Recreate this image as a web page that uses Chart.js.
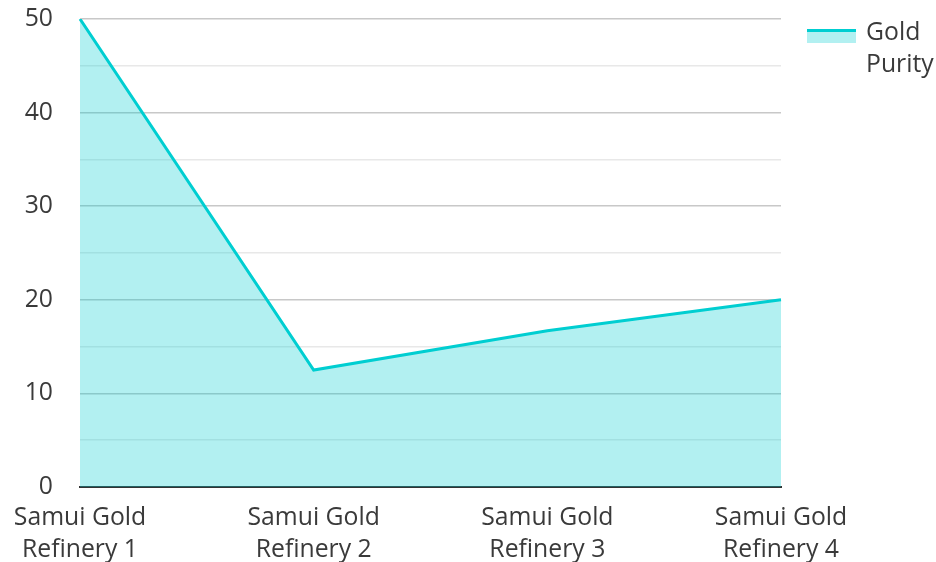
<!DOCTYPE html>
<html>
<head>
<meta charset="utf-8">
<script src="https://cdn.jsdelivr.net/npm/chart.js@4/dist/chart.umd.min.js"></script>
<style>
  html, body { margin: 0; padding: 0; background: #fff; }
  #wrap { width: 936px; height: 562px; position: relative; }
</style>
</head>
<body>
<div id="wrap"><canvas id="c" width="936" height="562"></canvas></div>
<script>
const categories = [
  ['Samui Gold', 'Refinery 1'],
  ['Samui Gold', 'Refinery 2'],
  ['Samui Gold', 'Refinery 3'],
  ['Samui Gold', 'Refinery 4']
];
const seriesName = ['Gold', 'Purity'];
const goldPurity = [50, 12.5, 16.7, 20];
const yMin = 0;
const yMax = 50;
const yStep = 5;
const yLabelStep = 10;

const LINE = '#00CED1';
const FILL = 'rgba(0, 206, 209, 0.3)';
const TEXT = '#3a3a3a';
const FONT = "'Open Sans', 'Noto Sans', sans-serif";
const FSIZE = 24.75;

const legendPlugin = {
  id: 'customLegend',
  afterDraw(chart) {
    const ctx = chart.ctx;
    const x = chart.chartArea.right + 26;
    const y = 29;
    ctx.save();
    ctx.fillStyle = FILL;
    ctx.fillRect(x, y, 49, 14);
    ctx.strokeStyle = LINE;
    ctx.lineWidth = 3;
    ctx.beginPath();
    ctx.moveTo(x, y + 1.5);
    ctx.lineTo(x + 49, y + 1.5);
    ctx.stroke();
    ctx.fillStyle = TEXT;
    ctx.font = FSIZE + 'px ' + FONT;
    ctx.textBaseline = 'middle';
    ctx.textAlign = 'left';
    seriesName.forEach((t, i) => ctx.fillText(t, x + 59, 33 + i * 32));
    ctx.restore();
  }
};

new Chart(document.getElementById('c'), {
  type: 'line',
  data: {
    labels: categories,
    datasets: [{
      label: seriesName.join(' '),
      data: goldPurity,
      borderColor: LINE,
      backgroundColor: FILL,
      borderWidth: 3,
      fill: 'origin',
      tension: 0,
      pointRadius: 0,
      pointHoverRadius: 0
    }]
  },
  options: {
    responsive: false,
    animation: false,
    layout: { padding: { top: 19, right: 155, left: 0, bottom: 0 } },
    plugins: {
      legend: { display: false },
      tooltip: { enabled: false }
    },
    scales: {
      x: {
        offset: false,
        grid: { display: false },
        border: { display: true, color: '#333333', width: 2 },
        ticks: {
          color: TEXT,
          font: { family: FONT, size: FSIZE, lineHeight: 1.3 },
          maxRotation: 0,
          autoSkip: false,
          padding: 7
        },
        afterFit(scale) { scale.height = 75; scale.paddingLeft = 0; scale.paddingRight = 0; }
      },
      y: {
        min: yMin,
        max: yMax,
        grid: {
          drawTicks: false,
          color: (c) => (c.tick && c.tick.value % yLabelStep === 0) ? '#c8c8c8' : '#e8e8e8',
          lineWidth: 1.5
        },
        border: { display: false },
        ticks: {
          stepSize: yStep,
          color: TEXT,
          font: { family: FONT, size: FSIZE },
          padding: 27,
          callback: (v) => (v % yLabelStep === 0 ? String(v) : '')
        },
        afterFit(scale) { scale.width = 80; scale.paddingTop = 0; scale.paddingBottom = 0; }
      }
    }
  },
  plugins: [legendPlugin]
});
</script>
</body>
</html>
